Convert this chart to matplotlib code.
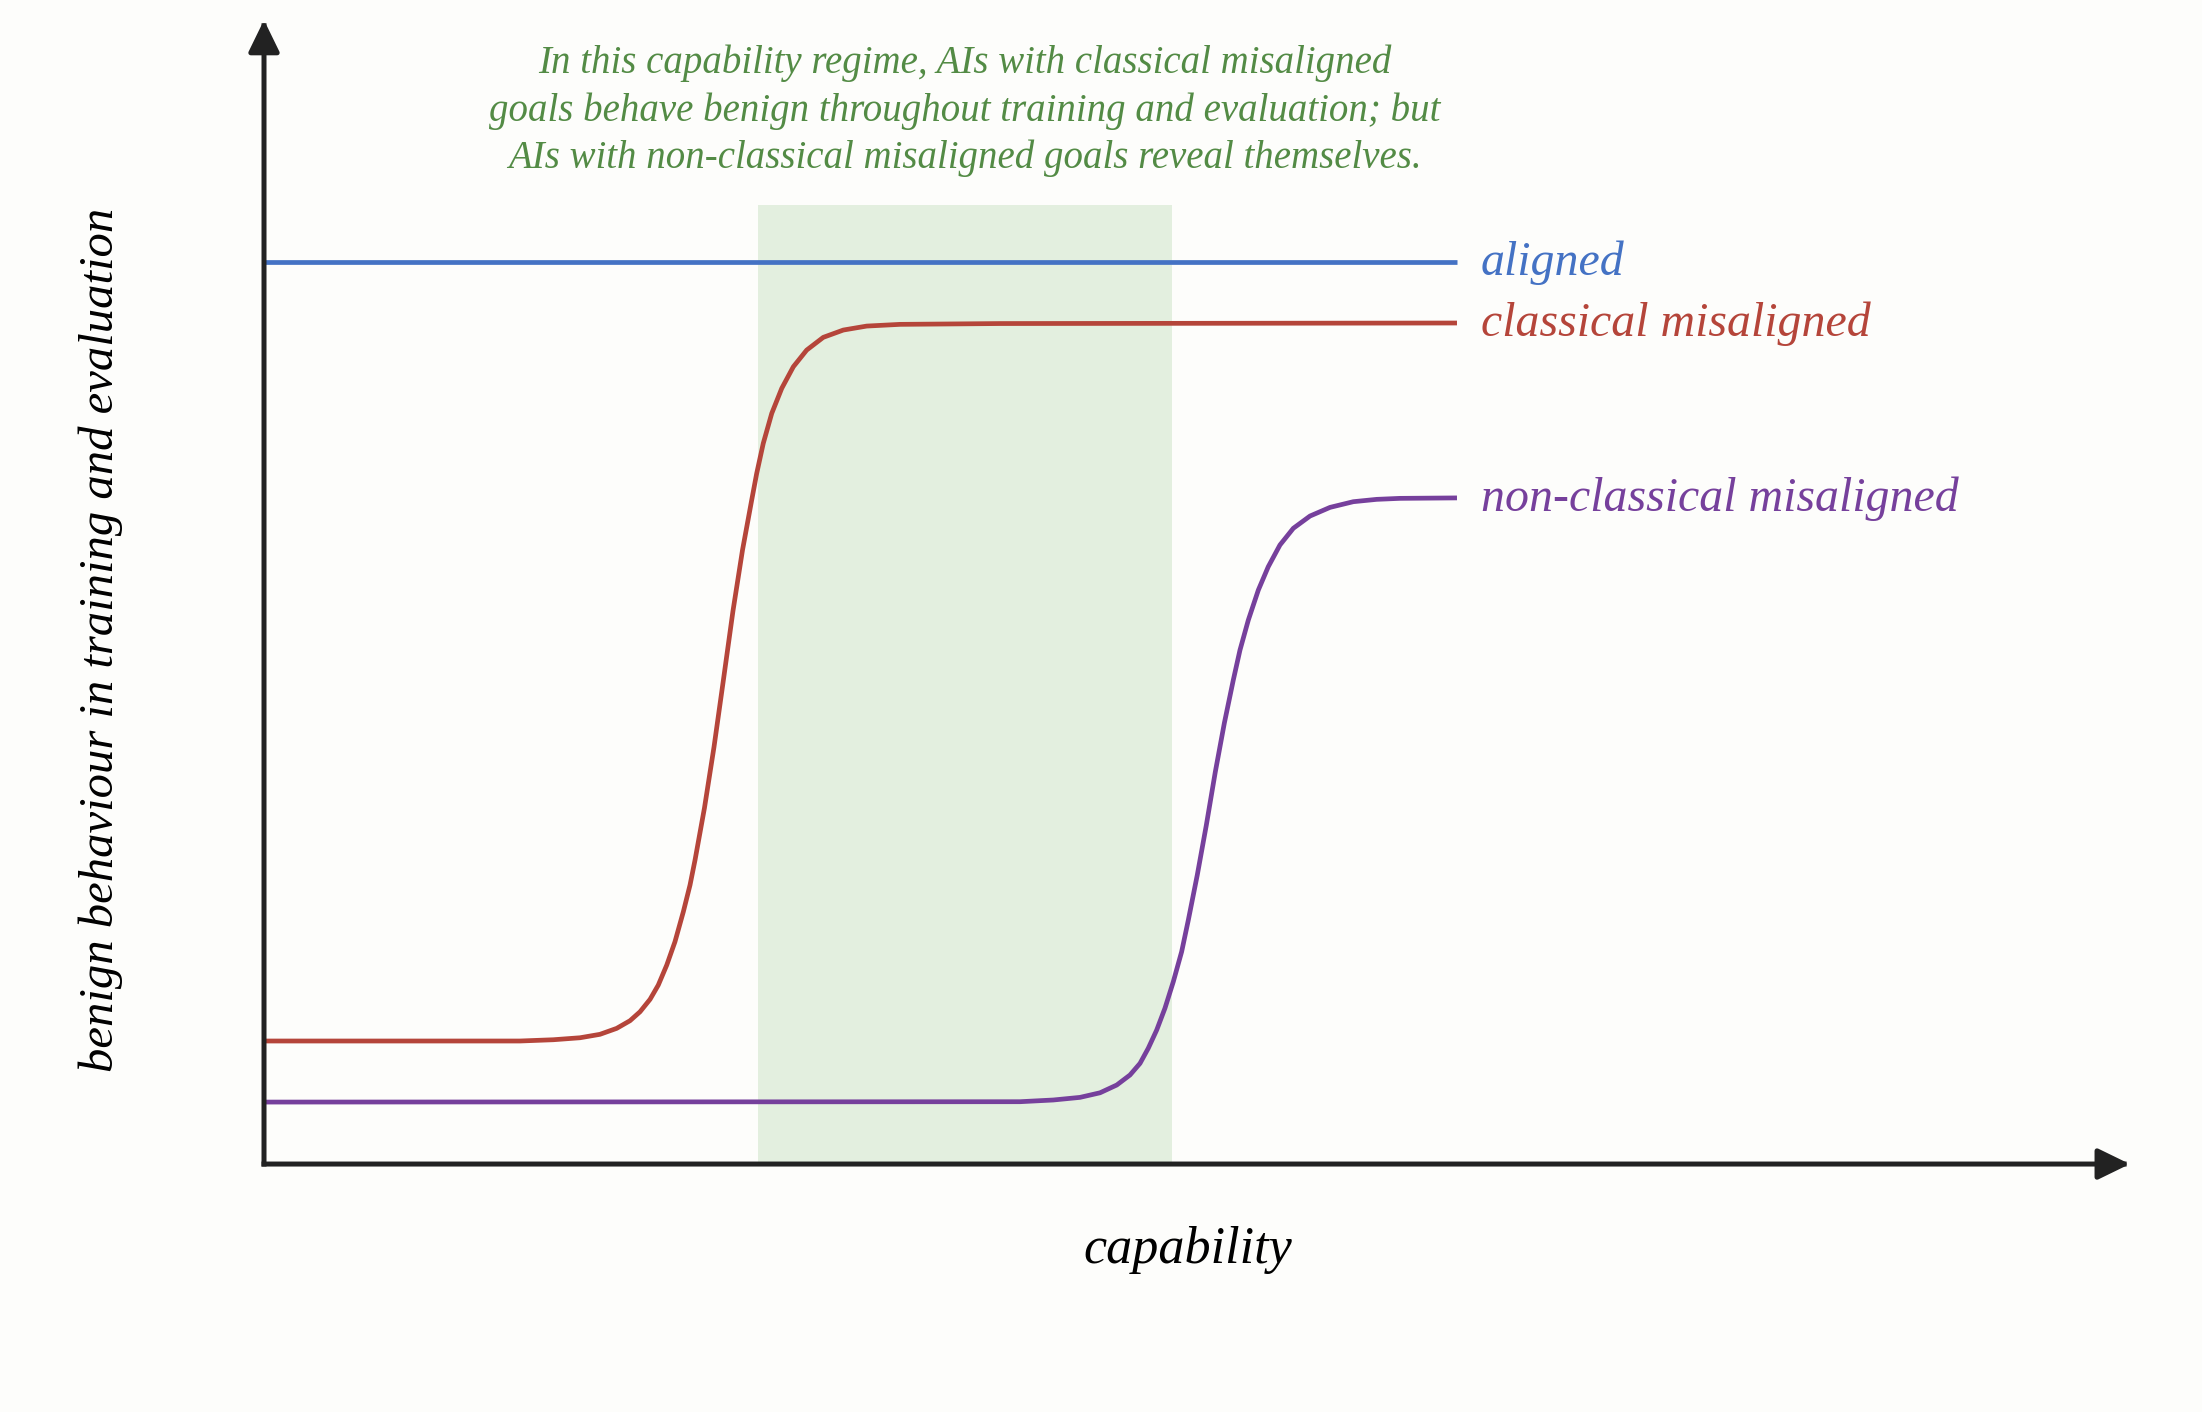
import matplotlib
matplotlib.use("Agg")
import matplotlib.pyplot as plt
from matplotlib.patches import FancyArrowPatch

# -----------------------------
# Data
# -----------------------------
aligned_x = [0.0, 10.0]
aligned_y = [10.0, 10.0]

classical_x = [0.000, 2.146, 2.425, 2.649, 2.816, 2.956, 3.068, 3.152, 3.236, 3.305,
               3.376, 3.445, 3.515, 3.571, 3.613, 3.692, 3.772, 3.852, 3.931, 4.011,
               4.088, 4.130, 4.185, 4.256, 4.340, 4.437, 4.549, 4.688, 4.856, 5.052,
               5.331, 6.169, 10.0]
classical_y = [1.364, 1.364, 1.378, 1.400, 1.438, 1.504, 1.589, 1.688, 1.826, 1.984,
               2.206, 2.465, 2.797, 3.093, 3.370, 3.947, 4.623, 5.377, 6.131, 6.807,
               7.361, 7.657, 7.990, 8.322, 8.600, 8.839, 9.024, 9.165, 9.246, 9.290,
               9.309, 9.318, 9.324]

nonclassical_x = [0.000, 6.337, 6.616, 6.840, 7.008, 7.148, 7.259, 7.343, 7.412, 7.483,
                  7.552, 7.622, 7.692, 7.748, 7.823, 7.899, 7.974, 8.050, 8.125, 8.181,
                  8.251, 8.335, 8.418, 8.516, 8.628, 8.768, 8.936, 9.131, 9.327, 9.522,
                  10.0]
nonclassical_y = [0.687, 0.691, 0.710, 0.739, 0.790, 0.876, 0.987, 1.116, 1.283, 1.486,
                  1.727, 2.021, 2.354, 2.705, 3.204, 3.758, 4.346, 4.889, 5.366, 5.698,
                  6.031, 6.364, 6.622, 6.863, 7.048, 7.184, 7.280, 7.343, 7.369, 7.380,
                  7.385]

regime_x = [4.14, 7.61]
regime_top = 10.63

series_labels = ["aligned", "classical misaligned", "non-classical misaligned"]
note_lines = [
    "In this capability regime, AIs with classical misaligned",
    "goals behave benign throughout training and evaluation; but",
    "AIs with non-classical misaligned goals reveal themselves.",
]
x_label = "capability"
y_label = "benign behaviour in training and evaluation"

# -----------------------------
# Style
# -----------------------------
BLUE = "#4472c4"
RED = "#b5453a"
PURPLE = "#76409c"
GREEN_TEXT = "#538b45"
GREEN_BAND = "#e3efdf"
AXIS = "#222222"
BG = "#fdfdfb"
FONT = "Liberation Serif"

fig = plt.figure(figsize=(22.02, 14.12), dpi=100, facecolor=BG)
ax = fig.add_axes([0, 0, 1, 1])
ax.set_facecolor(BG)
ax.set_xlim(-2.213, 16.245)
ax.set_ylim(-2.749, 12.905)
ax.axis("off")

# shaded regime
ax.fill_between(regime_x, 0, regime_top, color=GREEN_BAND, lw=0, zorder=1)

# curves + end labels
lines = [(aligned_x, aligned_y, BLUE),
         (classical_x, classical_y, RED),
         (nonclassical_x, nonclassical_y, PURPLE)]
for (xs, ys, c), lab in zip(lines, series_labels):
    ax.plot(xs, ys, color=c, lw=3.4, solid_joinstyle="round",
            solid_capstyle="butt", zorder=3)
    ax.text(xs[-1] + 0.2, ys[-1] - 0.14, lab, color=c, fontsize=34.5,
            family=FONT, style="italic", ha="left", va="baseline")

# axes arrows
for tip in [(15.64, 0), (0, 12.683)]:
    arr = FancyArrowPatch((0, 0), tip, arrowstyle="-|>,head_length=1.95,head_width=0.95",
                          mutation_scale=10, color=AXIS, lw=3.6, shrinkA=0, shrinkB=0,
                          capstyle="projecting", zorder=4)
    ax.add_patch(arr)

# annotation over the shaded regime
mid = sum(regime_x) / 2
for i, line in enumerate(note_lines):
    ax.text(mid, 12.096 - i * 0.527, line, color=GREEN_TEXT, fontsize=28,
            family=FONT, style="italic", ha="center", va="baseline")

ax.text(7.745, -1.098, x_label, fontsize=37.5, family=FONT, style="italic",
        ha="center", va="baseline", color="black")
ax.text(-1.366, 5.81, y_label, fontsize=35, family=FONT, style="italic",
        ha="center", va="center", rotation=90, color="black")

fig.savefig("out.png", dpi=100, facecolor=BG)
